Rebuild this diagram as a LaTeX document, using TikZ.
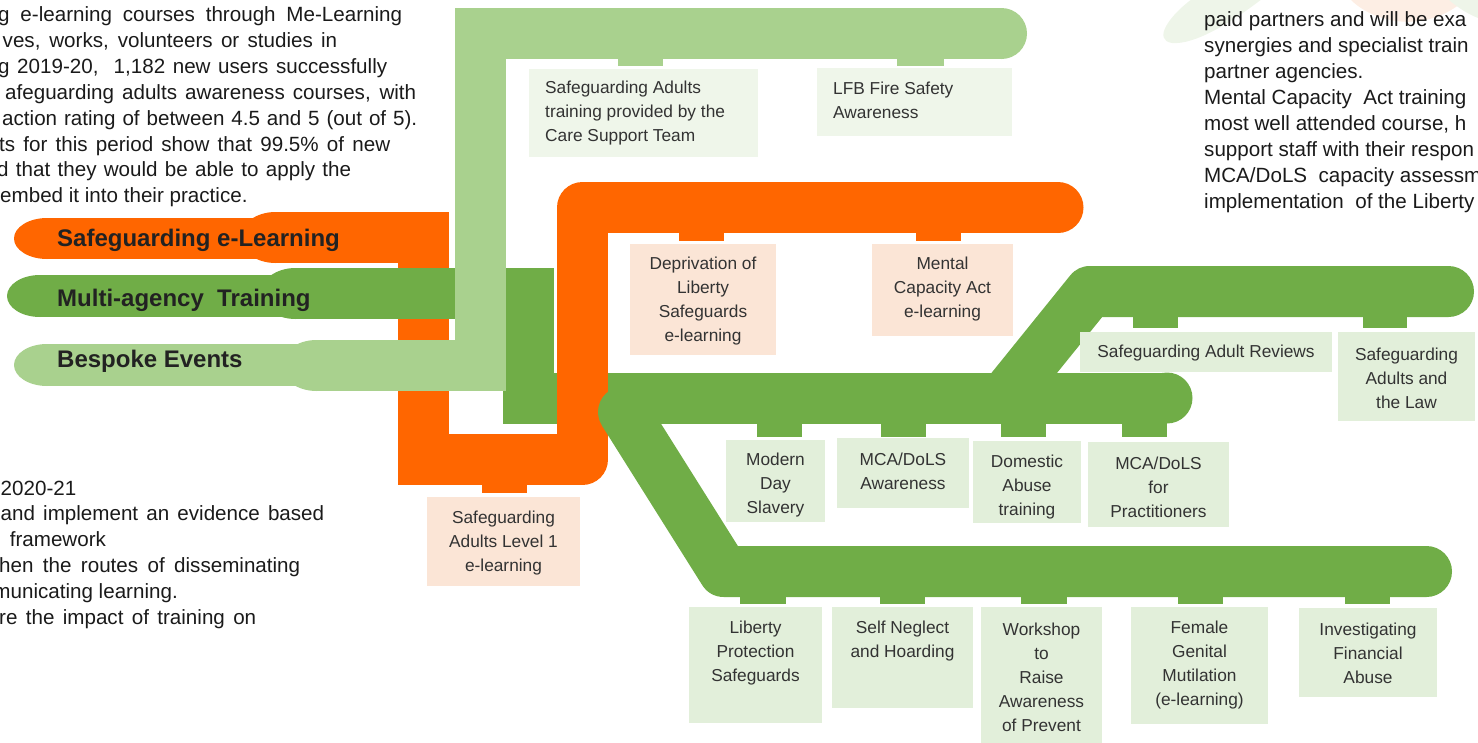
\documentclass[tikz,border=0pt]{standalone}
\usepackage{fontspec}
\setmainfont{Liberation Sans}
\definecolor{orng}{HTML}{FF6600}
\definecolor{dkg}{HTML}{70AD47}
\definecolor{ltg}{HTML}{A9D18E}
\definecolor{peach}{HTML}{FBE5D6}
\definecolor{gbox}{HTML}{E2EFDA}
\definecolor{pbox}{HTML}{EFF6EA}
\definecolor{pgreen}{HTML}{EEF5E9}
\definecolor{porange}{HTML}{FDEEE4}
\definecolor{txtc}{HTML}{1A1A1A}
\definecolor{boxc}{HTML}{333333}
\definecolor{tabc}{HTML}{222222}
\newcommand\TBox[8]{%
  \fill[#6] (#2,#3) rectangle (#4,#5);
  \node[btxt] (#1) at ({(#2+#4)/2},#7) {#8};}
\begin{document}
\begin{tikzpicture}[x=1pt,y=-1pt,
  bodytxt/.style={font=\fontsize{20.6}{25.86}\selectfont, text=txtc, inner sep=0pt},
  tabtxt/.style={font=\fontsize{24}{28}\selectfont\bfseries, text=tabc, inner sep=0pt},
  btxt/.style={font=\fontsize{17.3}{24}\selectfont, text=boxc, inner sep=0pt, align=center},
  bandline/.style={line width=51pt}]
\path[use as bounding box] (0,0) rectangle (1478,742);
\clip (0,0) rectangle (1478,742);

% faint decorative blobs
\fill[pgreen] (1192,-1) .. controls (1170,15) and (1152,40) .. (1172,43) .. controls (1195,45) and (1232,22) .. (1262,-1) -- cycle;
\fill[porange] (1350,-1) .. controls (1372,22) and (1425,36) .. (1466,-1) -- cycle;
\fill[pgreen] (1448,-1) .. controls (1458,8) and (1468,14) .. (1478,18) -- (1478,-1) -- cycle;

% orange left part
\draw[orng, bandline] (275.5,237.5) -- (423.5,237.5) -- (423.5,485);
\fill[orng] (275.5,237.5) ellipse [x radius=35, y radius=25.5];
\fill[orng] (47,238.5) ellipse [x radius=33, y radius=20.5];
\fill[orng] (47,218) rectangle (290,259);

% dark green left part + mid band
\draw[dkg, bandline] (295.5,293.5) -- (528.5,293.5) -- (528.5,398) -- (1167,398);
\fill[dkg] (1167,398) circle (25.5);
\fill[dkg] (295.5,293.5) ellipse [x radius=35, y radius=25.5];
\fill[dkg] (40,296) ellipse [x radius=33, y radius=21];
\fill[dkg] (40,275) rectangle (310,317);

% light green
\draw[ltg, bandline] (316.5,365.5) -- (480.5,365.5) -- (480.5,33.5) -- (1001.5,33.5);
\fill[ltg] (1001.5,33.5) circle (25.5);
\fill[ltg] (316.5,365.5) ellipse [x radius=35, y radius=25.5];
\fill[ltg] (47,365) ellipse [x radius=33, y radius=21];
\fill[ltg] (47,344) rectangle (330,386);

% orange right part
\draw[orng, bandline, line join=round] (398,459.5) -- (582.5,459.5) -- (582.5,207.5) -- (1058,207.5);
\fill[orng] (1058,207.5) circle (25.5);

% dark green branches
\draw[dkg, bandline, line join=round, line cap=round] (623.5,412) -- (723.8,571.5) -- (1426.5,571.5);
\draw[dkg, bandline, line join=round, line cap=round] (1004,398) -- (1090,291.5) -- (1448.5,291.5);

% stubs
\fill[ltg] (618,58) rectangle (663,66);
\fill[ltg] (897,58) rectangle (944,66);
\fill[orng] (679,232) rectangle (724,241);
\fill[orng] (916,232) rectangle (961,241);
\fill[orng] (482,484) rectangle (527,493);
\fill[dkg] (757,422) rectangle (802,437);
\fill[dkg] (881,422) rectangle (926,437);
\fill[dkg] (1001,422) rectangle (1046,437);
\fill[dkg] (1122,422) rectangle (1167,437);
\fill[dkg] (1133,316) rectangle (1178,328);
\fill[dkg] (1363,316) rectangle (1407,328);
\fill[dkg] (740,596) rectangle (786,604);
\fill[dkg] (880,596) rectangle (925,604);
\fill[dkg] (1021,596) rectangle (1067,604);
\fill[dkg] (1178,596) rectangle (1223,604);
\fill[dkg] (1345,596) rectangle (1390,604);

% tab labels
\node[tabtxt, anchor=base west] (tse) at (57,246.6) {Safeguarding e-Learning};
\node[tabtxt, anchor=base west] (tma) at (57,306.6) {Multi-agency\ \ Training};
\node[tabtxt, anchor=base west] (tbe) at (57,367.5) {Bespoke Events};

% boxes
\fill[pbox] (529,69) rectangle (758,157);
\node[btxt, align=left, anchor=west] (sat) at (545,113) {Safeguarding Adults\\training provided by the\\Care Support Team};
\fill[pbox] (817,68) rectangle (1012,136);
\node[btxt, align=left, anchor=west] (lfb) at (833,100) {LFB Fire Safety\\Awareness};
\TBox{dls}{630}{244}{776}{355}{peach}{301}{Deprivation of\\Liberty\\Safeguards\\e-learning}
\TBox{mca}{872}{244}{1013}{336}{peach}{289}{Mental\\Capacity Act\\e-learning}
\TBox{sal}{427}{497}{580}{586}{peach}{543}{Safeguarding\\Adults Level 1\\e-learning}
\TBox{mds}{726}{440}{825}{522}{gbox}{485}{Modern\\Day\\Slavery}
\TBox{mda}{837}{438}{969}{508}{gbox}{471}{MCA/DoLS\\Awareness}
\TBox{dat}{973}{441}{1081}{523}{gbox}{487}{Domestic\\Abuse\\training}
\TBox{mdp}{1088}{442}{1229}{527}{gbox}{487}{MCA/DoLS\\for\\Practitioners}
\TBox{sar}{1080}{332}{1332}{372}{gbox}{353}{Safeguarding Adult Reviews}
\TBox{sla}{1338}{332}{1475}{421}{gbox}{378}{Safeguarding\\Adults and\\the Law}
\TBox{lps}{689}{607}{822}{723}{gbox}{653}{Liberty\\Protection\\Safeguards}
\TBox{snh}{832}{607}{973}{708}{gbox}{641}{Self Neglect\\and Hoarding}
\TBox{wrp}{981}{607}{1102}{745}{gbox}{677}{Workshop\\to\\Raise\\Awareness\\of Prevent}
\TBox{fgm}{1131}{607}{1268}{724}{gbox}{665}{Female\\Genital\\Mutilation\\(e-learning)}
\TBox{ifa}{1299}{608}{1437}{697}{gbox}{653}{Investigating\\Financial\\Abuse}

% body text, top left
\node[bodytxt, anchor=base west] (a1) at (-2,21.7) {\makebox[404pt][s]{g e-learning courses through Me-Learning}};
\node[bodytxt, anchor=base west] (a2) at (2.5,47.6) {\makebox[334.5pt][s]{ves, works, volunteers or studies in}};
\node[bodytxt, anchor=base west] (a3) at (-2,73.4) {\makebox[389pt][s]{g 2019-20,\ \ 1,182 new users successfully}};
\node[bodytxt, anchor=base west] (a4) at (5,99.3) {\makebox[411pt][s]{afeguarding adults awareness courses, with}};
\node[bodytxt, anchor=base west] (a5) at (2,125.1) {\makebox[415pt][s]{action rating of between 4.5 and 5 (out of 5).}};
\node[bodytxt, anchor=base west] (a6) at (-1,151) {\makebox[391pt][s]{ts for this period show that 99.5\% of new}};
\node[bodytxt, anchor=base west] (a7) at (-3,176.9) {\makebox[354pt][s]{d that they would be able to apply the}};
\node[bodytxt, anchor=base west] (a8) at (0,202.7) {embed it into their practice.};

% body text, lower left
\node[bodytxt, anchor=base west] (b1) at (0.5,495) {2020-21};
\node[bodytxt, anchor=base west] (b2) at (0.5,520.9) {\makebox[323.5pt][s]{and implement an evidence based}};
\node[bodytxt, anchor=base west] (b3) at (9.6,546.8) {framework};
\node[bodytxt, anchor=base west] (b4) at (-1,572.7) {\makebox[301pt][s]{hen the routes of disseminating}};
\node[bodytxt, anchor=base east] (b5) at (178,598.6) {municating learning.};
\node[bodytxt, anchor=base west] (b6) at (-1,624.5) {\makebox[257pt][s]{re the impact of training on}};

% body text, top right
\node[bodytxt, anchor=base west] (c1) at (1204,26) {paid partners and will be exa};
\node[bodytxt, anchor=base west] (c2) at (1204,52) {synergies and specialist train};
\node[bodytxt, anchor=base west] (c3) at (1204,78) {partner agencies.};
\node[bodytxt, anchor=base west] (c4) at (1204,104) {Mental Capacity\ \ Act training};
\node[bodytxt, anchor=base west] (c5) at (1204,130) {most well attended course, h};
\node[bodytxt, anchor=base west] (c6) at (1204,156) {support staff with their respon};
\node[bodytxt, anchor=base west] (c7) at (1204,182) {MCA/DoLS\ \ capacity assessm};
\node[bodytxt, anchor=base west] (c8) at (1204,208) {implementation\ \ of the Liberty};
\end{tikzpicture}
\end{document}
